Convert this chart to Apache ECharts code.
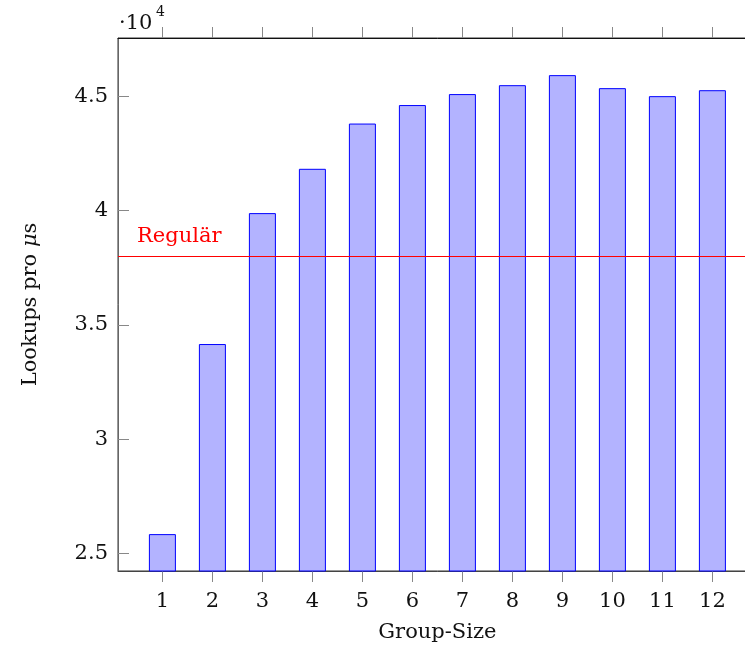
<!DOCTYPE html>
<html>
<head>
<meta charset="utf-8">
<script src="https://cdn.jsdelivr.net/npm/echarts@6/dist/echarts.min.js"></script>
<style>html,body{margin:0;padding:0;background:#fff;overflow:hidden;width:745px;height:645px}#c{width:765px;height:645px}</style>
</head>
<body>
<div id="c"></div>
<script>
const categories = ['1','2','3','4','5','6','7','8','9','10','11','12'];
const lookups = [25840, 34160, 39890, 41830, 43810, 44620, 45100, 45490, 45930, 45360, 45010, 45270];
const regular = 38000;
const yTicks = [25000, 30000, 35000, 40000, 45000];
const FONT = 'DejaVu Serif';

const xPos = categories.map(c => Number(c));
const barData = categories.map((c, i) => [Number(c), lookups[i]]);

const chart = echarts.init(document.getElementById('c'), null, {renderer: 'canvas'});
const option = {
  animation: false,
  backgroundColor: '#fff',
  grid: {left: 118, top: 38, right: 8.2, bottom: 74, outerBoundsMode: 'none', containLabel: false,
    show: true, borderColor: '#333', borderWidth: 1},
  xAxis: [{
    type: 'value', min: 0.112, max: 12.888, position: 'bottom',
    splitLine: {show: false},
    axisLine: {show: true, lineStyle: {color: '#444', width: 1}},
    axisTick: {show: true, inside: false, length: 11, customValues: xPos, lineStyle: {color: '#888'}},
    axisLabel: {customValues: xPos, fontFamily: FONT, fontSize: 21, color: '#111', margin: 20},
    name: 'Group-Size', nameLocation: 'middle', nameGap: 51,
    nameTextStyle: {fontFamily: FONT, fontSize: 21, color: '#111'}
  }, {
    type: 'value', min: 0.112, max: 12.888, position: 'top',
    splitLine: {show: false},
    axisLine: {show: true, lineStyle: {color: '#111', width: 1}},
    axisTick: {show: true, inside: false, length: 11, customValues: xPos, lineStyle: {color: '#888'}},
    axisLabel: {show: false}
  }],
  yAxis: [{
    type: 'value', min: 24226, max: 47555, position: 'left',
    splitLine: {show: false},
    axisLine: {show: true, lineStyle: {color: '#666', width: 1}},
    axisTick: {show: true, inside: true, length: 11, customValues: yTicks, lineStyle: {color: '#888'}},
    axisLabel: {customValues: yTicks, fontFamily: FONT, fontSize: 21, color: '#111', margin: 10,
      formatter: v => String(v / 10000)},
    name: 'Lookups pro {i|μ}s', nameLocation: 'middle', nameGap: 77, nameRotate: 90,
    nameTextStyle: {fontFamily: FONT, fontSize: 21, color: '#111',
      rich: {i: {fontFamily: FONT, fontSize: 21, fontStyle: 'italic', color: '#111'}}}
  }, {
    type: 'value', min: 24226, max: 47555, position: 'right',
    splitLine: {show: false},
    axisLine: {show: true, lineStyle: {color: '#666'}},
    axisTick: {show: true, inside: true, length: 11, customValues: yTicks, lineStyle: {color: '#888'}},
    axisLabel: {show: false}
  }],
  series: [{
    type: 'bar', data: barData, xAxisIndex: 0, yAxisIndex: 0,
    barWidth: 27,
    itemStyle: {color: '#b3b3ff', borderColor: '#0000ff', borderWidth: 1},
    markLine: {
      silent: true, symbol: ['none', 'none'],
      lineStyle: {color: '#ff0000', width: 1.2, type: 'solid'},
      label: {show: true, position: 'insideStartTop', formatter: 'Regulär', color: '#ff0000',
        fontFamily: FONT, fontSize: 21, distance: [19, 9]},
      data: [{yAxis: regular}]
    }
  }],
  graphic: [
    {type: 'text', left: 119, top: 13, style: {text: '·10', fontFamily: FONT, fontSize: 21, fill: '#111'}},
    {type: 'text', left: 156, top: 5, style: {text: '4', fontFamily: FONT, fontSize: 14, fill: '#111'}}
  ]
};
chart.setOption(option);
</script>
</body>
</html>
